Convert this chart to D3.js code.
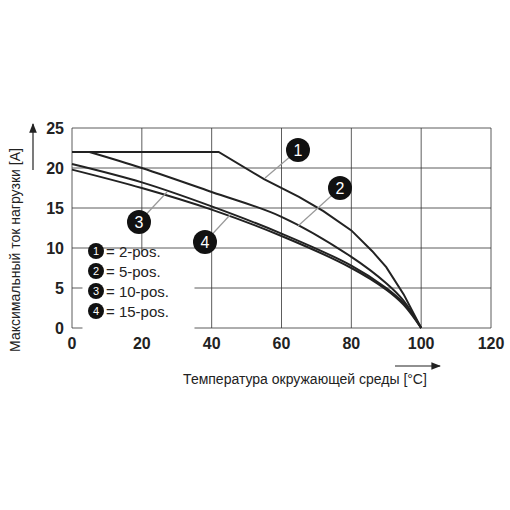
<!DOCTYPE html><html><head><meta charset="utf-8"><script src="https://cdn.jsdelivr.net/npm/d3@7"></script>
<style>body{margin:0;background:#fff}</style></head><body><svg id="c" width="510" height="510"></svg><script>
const xTicks=[0,20,40,60,80,100,120];
const yTicks=[0,5,10,15,20,25];
const s1=[[0,22],[42,22],[55,18.6],[65,16.4],[72,14.6],[80,12.2],[86,9.6],[90,7.6],[95,4.2],[100,0]];
const s2=[[5,22],[20,20],[40,17],[60,13.9],[80,8.9],[90,5.6],[95,3.4],[100,0]];
const s3=[[0,20.5],[20,18.2],[40,15.2],[60,11.8],[80,7.8],[90,5],[95,3.1],[100,0]];
const s4=[[0,19.8],[20,17.5],[40,14.8],[60,11.5],[80,7.5],[90,4.8],[95,2.9],[100,0]];
const legend=["= 2-pos.","= 5-pos.","= 10-pos.","= 15-pos."];
const svg=d3.select("#c");
const x=d3.scaleLinear().domain([0,120]).range([72,491]);
const y=d3.scaleLinear().domain([0,25]).range([328,128]);
const g=svg.append("g");
xTicks.forEach(t=>g.append("line").attr("x1",x(t)).attr("x2",x(t)).attr("y1",y(0)).attr("y2",y(25)).attr("stroke","#333").attr("stroke-width",0.8));
yTicks.forEach(t=>g.append("line").attr("x1",x(0)).attr("x2",x(120)).attr("y1",y(t)).attr("y2",y(t)).attr("stroke","#333").attr("stroke-width",0.8));
const fnt="Liberation Sans, Arial, sans-serif";
xTicks.forEach(t=>svg.append("text").attr("x",x(t)).attr("y",349).attr("text-anchor","middle").attr("font-family",fnt).attr("font-size",16).attr("font-weight","bold").attr("fill","#222").text(t));
yTicks.forEach(t=>svg.append("text").attr("x",64).attr("y",y(t)+6).attr("text-anchor","end").attr("font-family",fnt).attr("font-size",16).attr("font-weight","bold").attr("fill","#222").text(t));
svg.append("rect").attr("x",x(3)).attr("y",y(10)+4).attr("width",112).attr("height",82).attr("fill","#fff");
const lin=d3.line().x(d=>x(d[0])).y(d=>y(d[1]));
const cr=d3.line().x(d=>x(d[0])).y(d=>y(d[1])).curve(d3.curveCatmullRom.alpha(0.5));
svg.append("path").attr("d",lin(s1)).attr("fill","none").attr("stroke","#222").attr("stroke-width",2);
[s2,s3,s4].forEach(s=>svg.append("path").attr("d",cr(s)).attr("fill","none").attr("stroke","#222").attr("stroke-width",2));
const callouts=[[1,298,150,265,178],[2,340,188,298,226],[3,139,222,167,192],[4,205,242,230,215]];
callouts.forEach(([n,cx,cy,lx,ly])=>{
 svg.append("line").attr("x1",cx).attr("y1",cy).attr("x2",lx).attr("y2",ly).attr("stroke","#999").attr("stroke-width",1.2);
 svg.append("circle").attr("cx",cx).attr("cy",cy).attr("r",12).attr("fill","#111");
 svg.append("text").attr("x",cx).attr("y",cy+6).attr("text-anchor","middle").attr("fill","#fff").attr("font-family",fnt).attr("font-size",16).text(n);
});
legend.forEach((t,i)=>{
 const yy=257+i*20;
 svg.append("circle").attr("cx",96).attr("cy",yy-6).attr("r",8).attr("fill","#111");
 svg.append("text").attr("x",96).attr("y",yy-2).attr("text-anchor","middle").attr("fill","#fff").attr("font-family",fnt).attr("font-size",11).text(i+1);
 svg.append("text").attr("x",106).attr("y",yy).attr("font-family",fnt).attr("font-size",15).attr("fill","#222").text(t);
});
svg.append("text").attr("x",305).attr("y",384).attr("text-anchor","middle").attr("font-family",fnt).attr("font-size",14).attr("fill","#222").text("Температура окружающей среды [°C]");
svg.append("text").attr("transform","translate(20,250) rotate(-90)").attr("text-anchor","middle").attr("font-family",fnt).attr("font-size",14).attr("fill","#222").text("Максимальный ток нагрузки [A]");
svg.append("defs").append("marker").attr("id","ar").attr("viewBox","0 0 10 10").attr("refX",9).attr("refY",5).attr("markerWidth",8).attr("markerHeight",8).attr("orient","auto").append("path").attr("d","M0,1L10,5L0,9Z").attr("fill","#222");
svg.append("line").attr("x1",33).attr("y1",170).attr("x2",33).attr("y2",124).attr("stroke","#222").attr("stroke-width",1.2).attr("marker-end","url(#ar)");
svg.append("line").attr("x1",395).attr("y1",366).attr("x2",440).attr("y2",366).attr("stroke","#222").attr("stroke-width",1.2).attr("marker-end","url(#ar)");
</script></body></html>
